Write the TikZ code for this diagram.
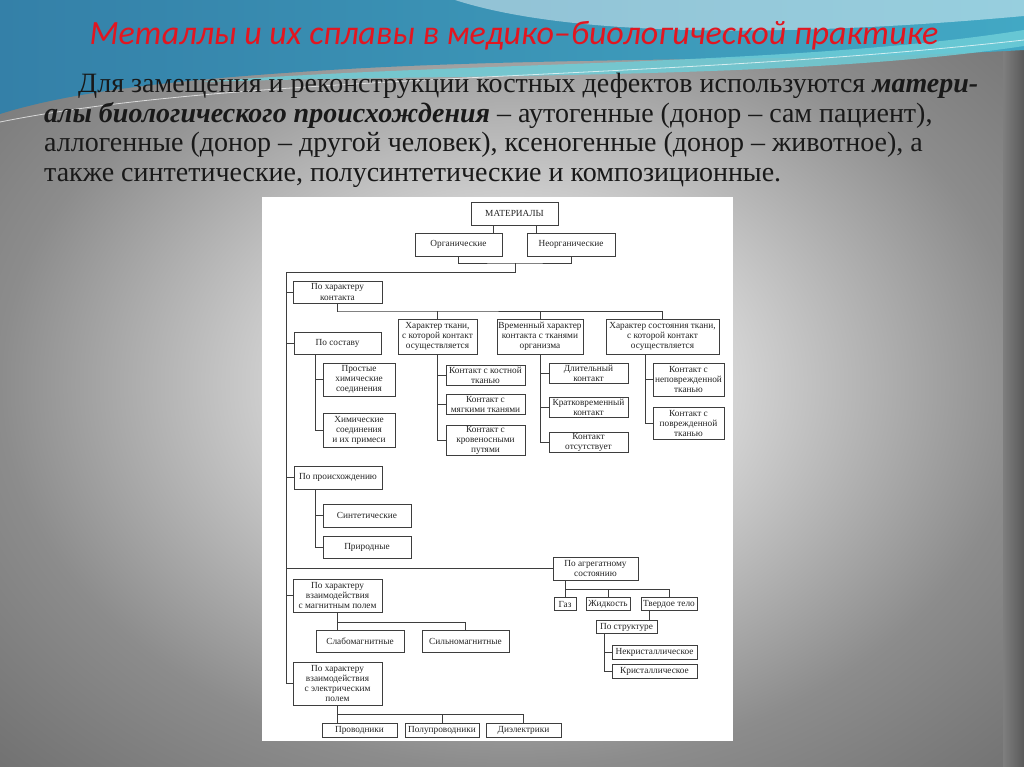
\documentclass[tikz,border=0pt]{standalone}
\usepackage{fontspec}
\setmainfont{Liberation Serif}
\newfontfamily\titlefont{Carlito}
\usepackage{tikz}
\usetikzlibrary{calc}

\definecolor{bgcenter}{RGB}{236,236,236}
\definecolor{bgedge}{RGB}{140,140,140}
\definecolor{bgcorner}{RGB}{112,112,112}
\definecolor{waveblue}{RGB}{52,128,168}
\definecolor{waveteal}{RGB}{66,168,196}
\definecolor{wavecyan}{RGB}{110,205,215}
\definecolor{titlered}{RGB}{226,22,32}
\definecolor{linegray}{RGB}{62,62,62}
\definecolor{textgray}{RGB}{36,36,36}

\pgfdeclareradialshading{slidebg}{\pgfpoint{0bp}{0bp}}{color(0bp)=(bgcenter); color(6bp)=(bgcenter); color(25bp)=(bgedge); color(36bp)=(bgcorner); color(50bp)=(bgcorner)}

\newcommand{\diagfont}{\fontsize{9.3}{10}\selectfont}
\newcommand{\bodyfont}{\fontsize{28}{29.5}\selectfont}

\tikzset{
  box/.style={draw=linegray, line width=0.9pt, fill=white, inner sep=0.8pt, align=center, font=\diagfont, text=textgray},
  link/.style={draw=linegray, line width=0.9pt},
  bodyline/.style={anchor=base west, inner sep=0pt, font=\bodyfont, text=black!90}
}

\begin{document}
\begin{tikzpicture}[x=1pt, y=-1pt]
  \useasboundingbox (0,0) rectangle (1024,767);
  % slide background
  \shade[shading=slidebg] (0,0) rectangle (1024,767);
  \shade[left color=bgcorner!90!white, right color=bgcorner!80!black] (1003,0) rectangle (1024,767);

  % wave on top
  \shade[left color=waveblue, right color=waveteal] (0,0) -- (1024,0) -- (1024,50) .. controls (820,62) and (560,56) .. (330,70) .. controls (170,80) and (70,92) .. (0,114) -- cycle;
  \fill[white, opacity=0.45] (455,0) .. controls (560,34) and (760,40) .. (1024,16) -- (1024,0) -- cycle;
  \fill[wavecyan, opacity=0.85] (200,82) .. controls (450,62) and (800,66) .. (1024,30) -- (1024,46) .. controls (800,80) and (450,74) .. (200,82) -- cycle;
  \draw[white, opacity=0.7, line width=0.8pt] (0,122) .. controls (250,72) and (650,82) .. (1024,40);

  % title and text
  \node[anchor=base, inner sep=0pt, text=titlered, font=\titlefont\itshape\fontsize{34}{38}\selectfont] (title) at (514,45) {Металлы и их сплавы в медико–биологической практике};
  \node[bodyline] (l1) at (78,93) {Для замещения и реконструкции костных дефектов используются \textbf{\textit{матери-}}};
  \node[bodyline] (l2) at (44,122.5) {\textbf{\textit{алы биологического происхождения}} – аутогенные (донор – сам пациент),};
  \node[bodyline] (l3) at (44,152) {аллогенные (донор – другой человек), ксеногенные (донор – животное), а};
  \node[bodyline] (l4) at (44,181.5) {также синтетические, полусинтетические и композиционные.};

  % diagram sheet
  \fill[white] (262,197) rectangle (733,741);

  \node[box, minimum width=87, minimum height=23] (mat) at (514.5,213.5) {МАТЕРИАЛЫ};
  \node[box, minimum width=87, minimum height=23] (org) at (458.5,244.5) {Органические};
  \node[box, minimum width=88, minimum height=23] (neorg) at (571,244.5) {Неорганические};

  \node[box, minimum width=89, minimum height=22] (kontakt) at (337.5,292) {По характеру\\контакта};
  \node[box, minimum width=79, minimum height=35] (tkan) at (437.5,336.5) {Характер ткани,\\с которой контакт\\осуществляется};
  \node[box, minimum width=86, minimum height=35] (vrem) at (540,336.5) {Временный характер\\контакта с тканями\\организма};
  \node[box, minimum width=113, minimum height=35] (sost) at (662.5,336.5) {Характер состояния ткани,\\с которой контакт\\осуществляется};

  \node[box, minimum width=79, minimum height=20] (kost) at (485.5,375) {Контакт с костной\\тканью};
  \node[box, minimum width=79, minimum height=20] (myag) at (485.5,404) {Контакт с\\мягкими тканями};
  \node[box, minimum width=79, minimum height=29] (krov) at (485.5,440.5) {Контакт с\\кровеносными\\путями};

  \node[box, minimum width=79, minimum height=20] (dlit) at (588.5,373) {Длительный\\контакт};
  \node[box, minimum width=79, minimum height=20] (krat) at (588.5,407) {Кратковременный\\контакт};
  \node[box, minimum width=79, minimum height=20] (otsut) at (588.5,442) {Контакт\\отсутствует};

  \node[box, minimum width=71, minimum height=33] (nepovr) at (688.5,379.5) {Контакт с\\неповрежденной\\тканью};
  \node[box, minimum width=71, minimum height=32] (povr) at (688.5,423) {Контакт с\\поврежденной\\тканью};

  \node[box, minimum width=87, minimum height=22] (sostav) at (337.5,343) {По составу};
  \node[box, minimum width=72, minimum height=33] (prost) at (359,379.5) {Простые\\химические\\соединения};
  \node[box, minimum width=72, minimum height=34] (him) at (359,430) {Химические\\соединения\\и их примеси};

  \node[box, minimum width=88, minimum height=23] (proish) at (338,477.5) {По происхождению};
  \node[box, minimum width=88, minimum height=23] (sint) at (367,515.5) {Синтетические};
  \node[box, minimum width=88, minimum height=22] (prir) at (367,547) {Природные};

  \node[box, minimum width=85, minimum height=23] (agreg) at (595.5,568.5) {По агрегатному\\состоянию};
  \node[box, minimum width=22, minimum height=13] (gaz) at (565,604) {Газ};
  \node[box, minimum width=44, minimum height=13] (zhid) at (608,604) {Жидкость};
  \node[box, minimum width=56, minimum height=13] (tverd) at (669,604) {Твердое тело};
  \node[box, minimum width=61, minimum height=13] (strukt) at (626.5,627) {По структуре};
  \node[box, minimum width=85, minimum height=14] (nekr) at (654.5,652) {Некристаллическое};
  \node[box, minimum width=85, minimum height=14] (krist) at (654.5,671) {Кристаллическое};

  \node[box, minimum width=89, minimum height=33] (magn) at (337.5,595.5) {По характеру\\взаимодействия\\с магнитным полем};
  \node[box, minimum width=88, minimum height=22] (slab) at (360,641) {Слабомагнитные};
  \node[box, minimum width=87, minimum height=22] (siln) at (465.5,641) {Сильномагнитные};

  \node[box, minimum width=89, minimum height=43] (elek) at (337.5,683.5) {По характеру\\взаимодействия\\с электрическим\\полем};
  \node[box, minimum width=75, minimum height=14] (prov) at (359.5,730) {Проводники};
  \node[box, minimum width=74, minimum height=14] (polu) at (442,730) {Полупроводники};
  \node[box, minimum width=75, minimum height=14] (diel) at (523.5,730) {Диэлектрики};

  % links
  \coordinate (join) at (515,263);
  \coordinate (spine) at (286,272);
  \coordinate (kbus) at (338,311);
  \coordinate (abus) at (565,589);
  \coordinate (mbus) at (338,622);
  \coordinate (ebus) at (338,714);

  \draw[link] ([xshift=-21.5pt]mat.south) -- ([xshift=-21.5pt]mat.south |- org.north);
  \draw[link] ([xshift=21.5pt]mat.south) -- ([xshift=21.5pt]mat.south |- neorg.north);
  \draw[link] (org.south) |- (join) -| (neorg.south);
  \draw[link] (join) |- (spine) |- (elek.west);
  \draw[link] (spine |- kontakt.west) -- (kontakt.west);
  \draw[link] (spine |- sostav.west) -- (sostav.west);
  \draw[link] (spine |- proish.west) -- (proish.west);
  \draw[link] (spine |- agreg.west) -- (agreg.west);
  \draw[link] (spine |- magn.west) -- (magn.west);

  \draw[link] (kontakt.south) |- (kbus) -| (sost.north);
  \draw[link] (tkan.north) -- (tkan.north |- kbus);
  \draw[link] (vrem.north) -- (vrem.north |- kbus);

  \draw[link] (tkan.south) |- (krov.west);
  \draw[link] (tkan.south |- kost.west) -- (kost.west);
  \draw[link] (tkan.south |- myag.west) -- (myag.west);

  \draw[link] (vrem.south) |- (otsut.west);
  \draw[link] (vrem.south |- dlit.west) -- (dlit.west);
  \draw[link] (vrem.south |- krat.west) -- (krat.west);

  \draw[link] ([xshift=-17.5pt]sost.south) |- (povr.west);
  \draw[link] ([xshift=-17.5pt]sost.south |- nepovr.west) -- (nepovr.west);

  \draw[link] ([xshift=-22.5pt]sostav.south) |- (him.west);
  \draw[link] ([xshift=-22.5pt]sostav.south |- prost.west) -- (prost.west);

  \draw[link] ([xshift=-23pt]proish.south) |- (prir.west);
  \draw[link] ([xshift=-23pt]proish.south |- sint.west) -- (sint.west);

  \draw[link] (agreg.south -| gaz.north) -- (gaz.north);
  \draw[link] (abus) -| (tverd.north);
  \draw[link] (zhid.north) -- (zhid.north |- abus);
  \draw[link] ([xshift=-20pt]tverd.south) -- ([xshift=-20pt]tverd.south |- strukt.north);
  \draw[link] ([xshift=-22.5pt]strukt.south) |- (krist.west);
  \draw[link] ([xshift=-22.5pt]strukt.south |- nekr.west) -- (nekr.west);

  \draw[link] (magn.south) -- (magn.south |- slab.north);
  \draw[link] (mbus) -| (siln.north);

  \draw[link] (elek.south) -- (elek.south |- prov.north);
  \draw[link] (ebus) -| (diel.north);
  \draw[link] (polu.north) -- (polu.north |- ebus);
\end{tikzpicture}
\end{document}
